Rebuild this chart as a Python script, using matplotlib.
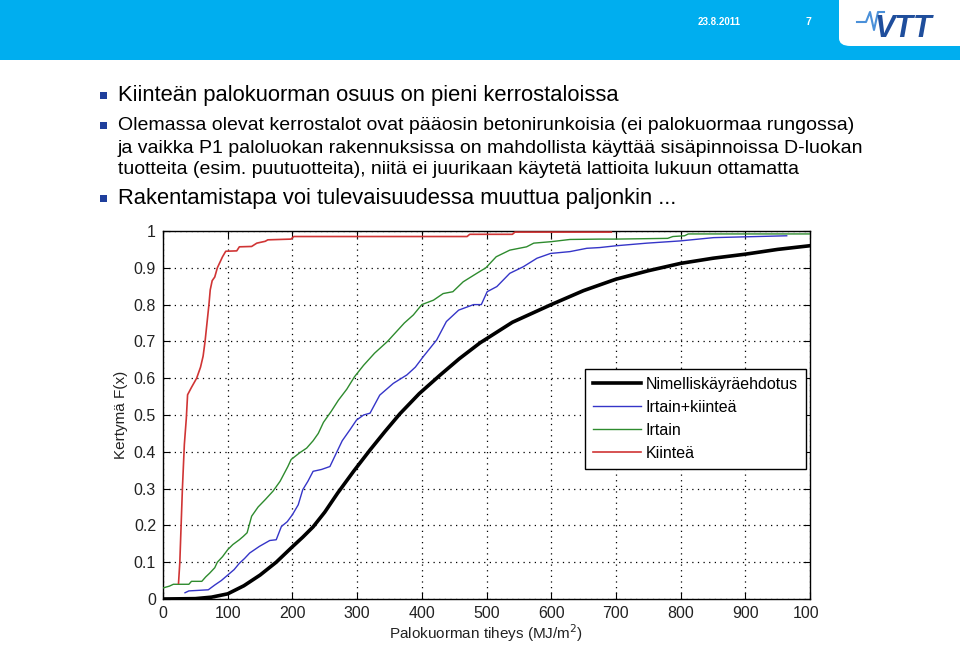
import matplotlib
matplotlib.use("Agg")
import matplotlib.pyplot as plt
from matplotlib.patches import Rectangle, FancyBboxPatch

plt.rcParams['font.family'] = ['Liberation Sans', 'DejaVu Sans']

# ---------------- data ----------------
black_x = [0, 50, 75, 100, 125, 150, 175, 200, 216, 232, 250, 270, 295, 320, 343, 366, 396,
           428, 458, 490, 540, 600, 650, 700, 750, 800, 850, 900, 950, 1000]
black_y = [0, 0.001, 0.005, 0.014, 0.036, 0.065, 0.1, 0.142, 0.168, 0.196, 0.236, 0.288,
           0.348, 0.405, 0.455, 0.503, 0.558, 0.608, 0.653, 0.696, 0.752, 0.8, 0.838, 0.869,
           0.892, 0.912, 0.926, 0.937, 0.95, 0.96]

blue_x = [34, 40, 70, 80, 90, 100, 110, 118, 126, 134, 149, 165, 175, 183, 192, 200, 209, 216,
          224, 232, 245, 258, 268, 277, 289, 299, 310, 320, 335, 356, 377, 390, 402, 423, 438,
          457, 480, 492, 501, 516, 536, 557, 578, 599, 629, 655, 675, 701, 748, 799, 851, 964]
blue_y = [0.017, 0.022, 0.025, 0.038, 0.05, 0.065, 0.08, 0.097, 0.11, 0.125, 0.143, 0.159, 0.161,
          0.197, 0.21, 0.229, 0.256, 0.297, 0.32, 0.347, 0.352, 0.36, 0.397, 0.43, 0.46, 0.486,
          0.5, 0.505, 0.554, 0.586, 0.609, 0.63, 0.658, 0.704, 0.754, 0.785, 0.80, 0.80, 0.835,
          0.849, 0.885, 0.903, 0.926, 0.939, 0.944, 0.953, 0.955, 0.96, 0.967, 0.973, 0.982, 0.987]

green_x = [0, 10, 16, 40, 44, 60, 66, 72, 80, 84, 92, 100, 108, 118, 124, 130, 137, 147, 158,
           170, 181, 193, 198, 211, 222, 232, 240, 248, 260, 271, 284, 296, 310, 327, 347, 360,
           373, 387, 400, 418, 433, 448, 464, 485, 499, 515, 536, 562, 573, 600, 629, 675, 700,
           780, 788, 806, 812, 1000]
green_y = [0.03, 0.035, 0.04, 0.04, 0.048, 0.048, 0.06, 0.07, 0.085, 0.1, 0.115, 0.134, 0.148,
           0.161, 0.17, 0.18, 0.225, 0.25, 0.27, 0.293, 0.32, 0.36, 0.379, 0.397, 0.41, 0.43,
           0.45, 0.48, 0.51, 0.54, 0.57, 0.604, 0.635, 0.668, 0.70, 0.725, 0.75, 0.772, 0.80,
           0.812, 0.83, 0.835, 0.862, 0.885, 0.90, 0.93, 0.948, 0.957, 0.967, 0.971, 0.977,
           0.978, 0.978, 0.98, 0.985, 0.987, 0.992, 0.992]

red_x = [24, 26, 28, 30, 33, 36, 38, 44, 52, 58, 62, 65, 68, 71, 73, 76, 80, 84, 88, 92, 97,
         114, 118, 137, 145, 158, 162, 198, 202, 470, 474, 540, 544, 693]
red_y = [0.043, 0.1, 0.2, 0.3, 0.42, 0.49, 0.555, 0.575, 0.6, 0.63, 0.66, 0.70, 0.75, 0.80,
         0.84, 0.865, 0.875, 0.9, 0.915, 0.93, 0.945, 0.946, 0.957, 0.958, 0.967, 0.972, 0.976,
         0.978, 0.985, 0.985, 0.991, 0.991, 0.997, 0.997]

series_labels = ["Nimelliskäyräehdotus", "Irtain+kiinteä", "Irtain", "Kiinteä"]
x_ticks = [0, 100, 200, 300, 400, 500, 600, 700, 800, 900, 1000]
y_ticks = [0, 0.1, 0.2, 0.3, 0.4, 0.5, 0.6, 0.7, 0.8, 0.9, 1]
y_tick_labels = ["0", "0.1", "0.2", "0.3", "0.4", "0.5", "0.6", "0.7", "0.8", "0.9", "1"]

slide_lines = [
    "Kiinteän palokuorman osuus on pieni kerrostaloissa",
    "Olemassa olevat kerrostalot ovat pääosin betonirunkoisia (ei palokuormaa rungossa)",
    "ja vaikka P1 paloluokan rakennuksissa on mahdollista käyttää sisäpinnoissa D-luokan",
    "tuotteita (esim. puutuotteita), niitä ei juurikaan käytetä lattioita lukuun ottamatta",
    "Rakentamistapa voi tulevaisuudessa muuttua paljonkin ...",
]
line_has_bullet = [True, True, False, False, True]
line_sizes = [15.8, 14.0, 14.0, 14.0, 15.8]

W, H = 960, 645
fig = plt.figure(figsize=(W / 100, H / 100), dpi=100)
fig.patch.set_facecolor('white')

def fx(px):
    return px / W

def fy(py):
    return 1 - py / H

# header band
fig.patches.append(Rectangle((0, fy(60)), 1, 60 / H, transform=fig.transFigure,
                             facecolor='#00AEEF', edgecolor='none', zorder=0))
fig.patches.append(FancyBboxPatch((fx(839), fy(46)), fx(140), 60 / H,
                                  boxstyle="round,pad=0,rounding_size=0.012",
                                  transform=fig.transFigure, facecolor='white',
                                  edgecolor='none', zorder=1))
fig.text(fx(719), fy(22), "23.8.2011", color='white', fontsize=7, ha='center', va='center',
         fontweight='bold')
fig.text(fx(808), fy(22), "7", color='white', fontsize=7.5, ha='center', va='center',
         fontweight='bold')
fig.text(fx(903), fy(29), "VTT", color='#1F4E9C', fontsize=22, fontweight='bold',
         fontstyle='italic', ha='center', va='center', zorder=3)
fig.lines.append(plt.Line2D([fx(857), fx(866), fx(870), fx(874), fx(878), fx(884)],
                            [fy(22), fy(22), fy(12), fy(30), fy(12), fy(12)],
                            transform=fig.transFigure, color='#4A90D9', lw=1.5, zorder=3))

# bullet text
line_rows = [96, 126, 148, 170, 199]
for txt, has_b, fs, py in zip(slide_lines, line_has_bullet, line_sizes, line_rows):
    if has_b:
        fig.patches.append(Rectangle((fx(100), fy(py + 3)), 7 / W, 7 / H,
                                     transform=fig.transFigure,
                                     facecolor='#1F3F9C', edgecolor='none'))
    fig.text(fx(118), fy(py), txt, fontsize=fs, ha='left', va='center', color='black')

# axes
ax = fig.add_axes([fx(163), fy(599), (810 - 163) / W, (599 - 231) / H])
ax.plot(black_x, black_y, color='black', lw=2.6, label=series_labels[0], zorder=3)
ax.plot(blue_x, blue_y, color='#3535C8', lw=1.0, label=series_labels[1], zorder=3)
ax.plot(green_x, green_y, color='#2E8B2E', lw=1.0, label=series_labels[2], zorder=3)
ax.plot(red_x, red_y, color='#D03535', lw=1.2, label=series_labels[3], zorder=3)

ax.set_xlim(0, 1000)
ax.set_ylim(0, 1)
ax.set_xticks(x_ticks)
ax.set_yticks(y_ticks)
ax.set_yticklabels(y_tick_labels)
ax.tick_params(direction='in', length=5, top=True, right=True, labelsize=11.5,
               colors='black', labelcolor='#222222', pad=5)
ax.grid(True, linestyle=(0, (1, 3.5)), color='black', lw=0.9)
for s in ax.spines.values():
    s.set_linewidth(1.0)
ax.set_xlabel("Palokuorman tiheys (MJ/m$^2$)", fontsize=11, color='#222222', labelpad=1)
ax.set_ylabel("Kertymä F(x)", fontsize=11, color='#222222', labelpad=4)

leg = ax.legend(loc='upper left', bbox_to_anchor=(0.652, 0.625), fontsize=11.5,
                frameon=True, fancybox=False, edgecolor='black', framealpha=1,
                handlelength=3.0, handletextpad=0.3, borderpad=0.5, labelspacing=0.5,
                borderaxespad=0)
leg.get_frame().set_linewidth(1.0)

# crop of the embedded chart image on the right
fig.patches.append(Rectangle((fx(818), 0), 1 - fx(818), fy(215), transform=fig.transFigure,
                             facecolor='white', edgecolor='none', zorder=10))

fig.savefig("out.png", dpi=100)
